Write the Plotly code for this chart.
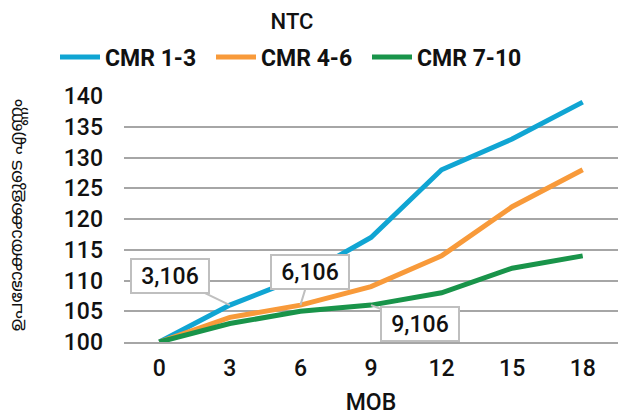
import plotly.graph_objects as go

# Months on book (MOB) and indexed customer counts per CMR band
mob = [0, 3, 6, 9, 12, 15, 18]
cmr_1_3 = [100, 106, 110.5, 117, 128, 133, 139]
cmr_4_6 = [100, 104, 106, 109, 114, 122, 128]
cmr_7_10 = [100, 103, 105, 106, 108, 112, 114]

series_names = ["CMR 1-3", "CMR 4-6", "CMR 7-10"]
series_colors = ["#10A5D3", "#F89A3A", "#19944A"]

# Callouts: (series index, MOB value, label, pixel offset of the box)
callouts = [
    (0, 3, "3,106", -60, -29),
    (1, 6, "6,106", 10, -33),
    (2, 9, "9,106", 49, 19),
]

title_text = "NTC"
x_title = "MOB"
y_title = "ഉപഭോക്താക്കളുടെ എണ്ണം"

W, H = 619, 418
ml, mr, mt, mb = 124, 1, 96, 76

all_series = [cmr_1_3, cmr_4_6, cmr_7_10]
text_font = dict(family="Roboto", size=23, color="#111111", weight=500)

fig = go.Figure()
for name, color, values in zip(series_names, series_colors, all_series):
    fig.add_trace(go.Scatter(
        x=mob, y=values, name=name, mode="lines",
        line=dict(color=color, width=5, shape="linear"),
        hoverinfo="skip",
    ))

for idx, xv, label, ax, ay in callouts:
    yv = all_series[idx][mob.index(xv)]
    fig.add_annotation(
        x=xv, y=yv, xref="x", yref="y",
        text=label, showarrow=True,
        ax=ax, ay=ay, axref="pixel", ayref="pixel",
        arrowhead=0, arrowwidth=2, arrowcolor="#BFBFBF", standoff=0,
        bgcolor="white", bordercolor="#BFBFBF", borderwidth=2, borderpad=3,
        width=70, height=26,
        font=text_font,
    )

fig.add_annotation(
    text=y_title, textangle=-90, showarrow=False,
    xref="paper", yref="paper",
    x=(17 - ml) / (W - ml - mr), y=0.515,
    xanchor="center", yanchor="middle",
    font=dict(family="Noto Sans Malayalam, Noto Sans, sans-serif", size=18, color="#111111"),
)

fig.update_layout(
    width=W, height=H,
    margin=dict(l=ml, r=mr, t=mt, b=mb, autoexpand=False),
    paper_bgcolor="white", plot_bgcolor="white",
    title=dict(
        text=title_text, x=292 / W, xref="container", xanchor="center",
        y=1 - 21 / H, yref="container", yanchor="middle",
        font=dict(family="Roboto", size=22, color="#111111", weight=500),
    ),
    legend=dict(
        orientation="h", xref="container", yref="container",
        x=55 / W, xanchor="left", y=1 - 57 / H, yanchor="middle",
        font=dict(family="Roboto", size=23, color="#111111", weight="bold"),
        itemwidth=40, entrywidth=101, entrywidthmode="pixels",
        bgcolor="rgba(0,0,0,0)",
    ),
    xaxis=dict(
        range=[-1.5, 19.5], tickvals=mob, showgrid=False, zeroline=False,
        showline=True, linecolor="#A6A6A6", linewidth=1.5,
        ticks="", ticklabelstandoff=5, automargin=False,
        tickfont=text_font,
        title=dict(text=x_title, standoff=13, font=text_font),
    ),
    yaxis=dict(
        range=[100, 140], dtick=5, showgrid=True, gridcolor="#A6A6A6", gridwidth=1.5,
        zeroline=False, showline=False, ticks="", ticklabelstandoff=20,
        automargin=False,
        tickfont=text_font,
    ),
    showlegend=True,
)

fig.write_html("out.html")
